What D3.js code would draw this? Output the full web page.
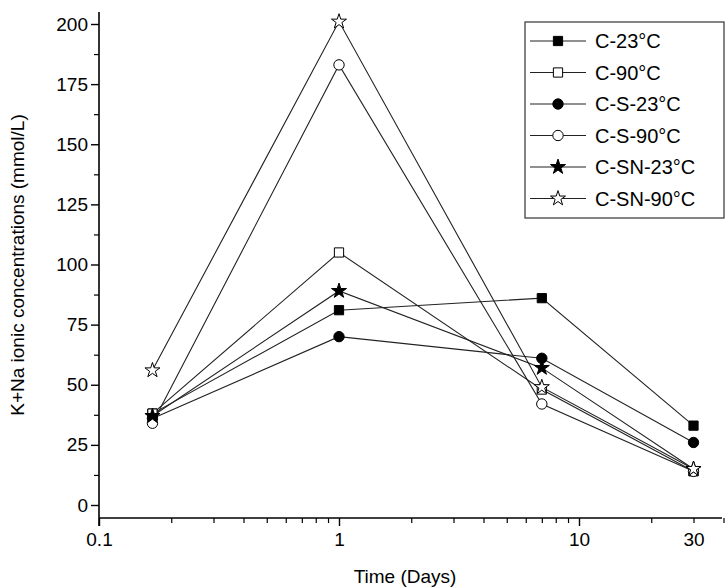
<!doctype html>
<html>
<head>
<style>
  body { margin: 0; background: #fff; font-family: Arial, 'Liberation Sans', sans-serif; }
</style>
<script src="https://d3js.org/d3.v7.min.js"></script>
</head>
<body>
<svg width="727" height="588"></svg>
<script>
const days = [0.167, 1, 7, 30];
const seriesNames = ["C-23°C", "C-90°C", "C-S-23°C", "C-S-90°C", "C-SN-23°C", "C-SN-90°C"];
const c23 = [38, 81, 86, 33];
const c90 = [38, 105, 48, 14];
const cs23 = [36, 70, 61, 26];
const cs90 = [34, 183, 42, 14];
const csn23 = [37, 89, 57, 15];
const csn90 = [56, 201, 49, 15];
const symbols = ["square", "square", "circle", "circle", "star", "star"];
const filled = [true, false, true, false, true, false];
const xTicks = [0.1, 1, 10, 30];
const yTicks = [0, 25, 50, 75, 100, 125, 150, 175, 200];
const allSeries = [c23, c90, cs23, cs90, csn23, csn90];

const svg = d3.select("svg");
const x = d3.scaleLog().domain([0.1, 100]).range([99, 99 + 240 * 3]);
const y = d3.scaleLinear().domain([0, 200]).range([505, 24]);
const axisY = 518;
const fs = 19;

const minorX = [];
for (let d = 2; d < 10; d++) minorX.push(d / 10, d);
minorX.push(20, 30, 40);
svg.append("g").attr("transform", `translate(0,${axisY})`)
  .call(d3.axisBottom(x).tickValues([0.1, 1, 10]).tickFormat("").tickSize(8).tickSizeOuter(0))
  .call(g => g.select(".domain").remove())
  .call(g => g.selectAll("line").attr("stroke-width", 1.4));
svg.append("g").attr("transform", `translate(0,${axisY})`)
  .call(d3.axisBottom(x).tickValues(xTicks).tickFormat(d => d).tickSize(0).tickSizeOuter(0))
  .call(g => g.select(".domain").remove())
  .call(g => g.selectAll("text").style("font-size", fs + "px").attr("dy", "1.3em"));
svg.append("g").attr("transform", `translate(0,${axisY})`)
  .call(d3.axisBottom(x).tickValues(minorX).tickFormat("").tickSize(5).tickSizeOuter(0))
  .call(g => g.select(".domain").remove())
  .call(g => g.selectAll("line").attr("stroke-width", 1.2));
svg.append("line").attr("x1", 99).attr("x2", 722).attr("y1", axisY).attr("y2", axisY).attr("stroke", "#000").attr("stroke-width", 1.6);

const yMinor = d3.range(12.5, 200, 25);
svg.append("g").attr("transform", "translate(99,0)")
  .call(d3.axisLeft(y).tickValues(yTicks).tickSize(8).tickSizeOuter(0))
  .call(g => g.select(".domain").remove())
  .call(g => g.selectAll("line").attr("stroke-width", 1.4))
  .call(g => g.selectAll("text").style("font-size", fs + "px"));
svg.append("g").attr("transform", "translate(99,0)")
  .call(d3.axisLeft(y).tickValues(yMinor).tickFormat("").tickSize(5).tickSizeOuter(0))
  .call(g => g.select(".domain").remove())
  .call(g => g.selectAll("line").attr("stroke-width", 1.2));
svg.append("line").attr("x1", 99).attr("x2", 99).attr("y1", 12).attr("y2", axisY + 8).attr("stroke", "#000").attr("stroke-width", 1.6);

svg.append("text").attr("x", 405).attr("y", 583).attr("text-anchor", "middle").style("font-size", fs + "px").text("Time (Days)");
svg.append("text").attr("transform", "translate(24,265) rotate(-90)").attr("text-anchor", "middle").style("font-size", fs + "px").text("K+Na ionic concentrations (mmol/L)");

const line = d3.line().x((d, i) => x(days[i])).y(d => y(d));
function sym(i) {
  const t = symbols[i] === "square" ? d3.symbolSquare : symbols[i] === "circle" ? d3.symbolCircle : d3.symbolStar;
  const size = symbols[i] === "star" ? 70 : 85;
  return d3.symbol().type(t).size(size)();
}
allSeries.forEach(s => {
  svg.append("path").attr("d", line(s)).attr("fill", "none").attr("stroke", "#222").attr("stroke-width", 1.1);
});
allSeries.forEach((s, i) => {
  svg.selectAll(null).data(s).enter().append("path")
    .attr("d", sym(i))
    .attr("transform", (d, j) => `translate(${x(days[j])},${y(d)})`)
    .attr("fill", filled[i] ? "#000" : "#fff")
    .attr("stroke", "#000").attr("stroke-width", 1);
});

// legend
const lg = svg.append("g");
lg.append("rect").attr("x", 525).attr("y", 22).attr("width", 199).attr("height", 196).attr("fill", "#fff").attr("stroke", "#333").attr("stroke-width", 1.2);
seriesNames.forEach((n, i) => {
  const yy = 41 + i * 31.5;
  lg.append("line").attr("x1", 530).attr("x2", 586).attr("y1", yy).attr("y2", yy).attr("stroke", "#222").attr("stroke-width", 1.1);
  lg.append("path").attr("d", sym(i)).attr("transform", `translate(558,${yy})`)
    .attr("fill", filled[i] ? "#000" : "#fff").attr("stroke", "#000");
  lg.append("text").attr("x", 595).attr("y", yy + 7).style("font-size", "20px").text(n);
});
</script>
</body>
</html>
